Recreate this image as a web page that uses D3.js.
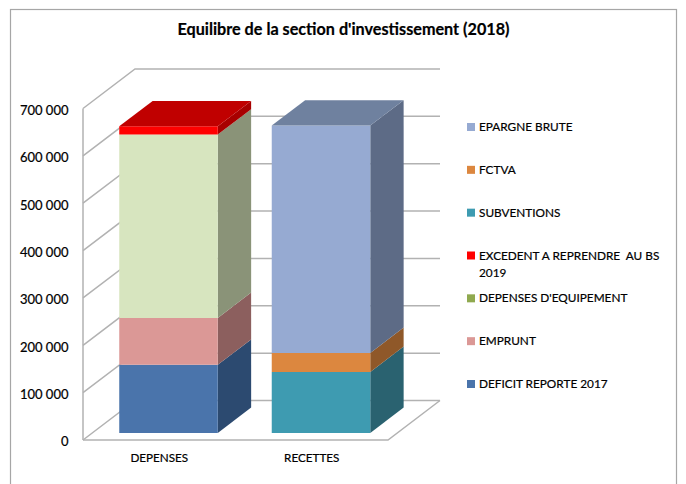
<!DOCTYPE html>
<html><head><meta charset="utf-8">
<script src="https://cdn.jsdelivr.net/npm/d3@7"></script>
<style>html,body{margin:0;padding:0;background:#fff}svg{display:block}text{font-family:Lato,"Open Sans",sans-serif;fill:#000;stroke:#000;stroke-width:.2px}</style>
</head><body><svg id="c" width="686" height="484"></svg>
<script>
const chartTitle = "Equilibre de la section d'investissement (2018)";
const categories = ["DEPENSES", "RECETTES"];
const tickValues = [0, 100000, 200000, 300000, 400000, 500000, 600000, 700000];
const deficit = [144000, 0];
const emprunt = [99000, 0];
const equipement = [387000, 0];
const excedent = [17500, 0];
const subventions = [0, 129000];
const fctva = [0, 40000];
const epargne = [0, 480000];
const seriesNames = ["DEFICIT REPORTE 2017", "EMPRUNT", "DEPENSES D'EQUIPEMENT", "EXCEDENT A REPRENDRE  AU BS 2019", "SUBVENTIONS", "FCTVA", "EPARGNE BRUTE"];
const seriesValues = [deficit, emprunt, equipement, excedent, subventions, fctva, epargne];
const faceColors = ["#4a74ab", "#db9896", "#d7e5bf", "#ff0000", "#3e9bb1", "#dc873f", "#96aad2"];
const sideColors = ["#2c4a70", "#8c5f5e", "#8a9378", "#a80000", "#2a6270", "#8f5829", "#5d6b86"];
const topColors = ["#3a5c88", "#b07a78", "#abb798", "#c00000", "#327c8d", "#b06c32", "#6f819f"];
const legendColors = ["#4a74ab", "#db9896", "#8fa94f", "#ff0000", "#3e9bb1", "#dc873f", "#96aad2"];
const legendOrder = [6, 5, 4, 3, 2, 1, 0];
const legendLines = [["EPARGNE BRUTE"], ["FCTVA"], ["SUBVENTIONS"], ["EXCEDENT A REPRENDRE  AU BS", "2019"], ["DEPENSES D'EQUIPEMENT"], ["EMPRUNT"], ["DEFICIT REPORTE 2017"]];

const svg = d3.select("#c");
const GREY = "#b2b2b2";
svg.append("rect").attr("x", 10.5).attr("y", 9.5).attr("width", 666).attr("height", 490)
  .attr("fill", "#fff").attr("stroke", "#a6a6a6").attr("stroke-width", 1.2);
svg.append("text").attr("x", 343.5).attr("y", 34.5).attr("text-anchor", "middle")
  .attr("font-size", 16.2).attr("font-weight", 700).text(chartTitle);

// Oblique projection: value + depth (0 front, 1 back of the floor) + floor x
const y = d3.scaleLinear().domain([0, 700000]).range([440, 108.5]);
const x = d3.scaleBand().domain(categories).range([83, 388]).paddingInner(0.354).paddingOuter(0.177);
const DX = 52, DY = 39.5;
const proj = (px, v, d) => [px + DX * d, y(v) - DY * d];
const line = d3.line();
const backRight = 388;

const grid = svg.append("g").attr("fill", "none").attr("stroke", GREY).attr("stroke-width", 1.5);
tickValues.forEach(v => {
  grid.append("path").attr("d", line([proj(83, v, 0), proj(83, v, 1), proj(backRight, v, 1)]));
});
grid.append("path").attr("d", line([proj(83, 0, 0), proj(backRight, 0, 0), proj(backRight, 0, 1)]));
grid.append("path").attr("d", line([proj(83, 0, 0), proj(83, 700000, 0)]));

// Y axis
const yAxis = d3.axisLeft(y).tickValues(tickValues).tickSize(0).tickPadding(0)
  .tickFormat(d => d === 0 ? "0" : d3.format(",")(d).replace(/,/g, "\u202f"));
const ag = svg.append("g").attr("transform", "translate(68.5,1.5)").call(yAxis);
ag.select(".domain").remove();
ag.selectAll("text").attr("font-size", 13).attr("font-family", "Lato").attr("fill", "#000").attr("dy", "0.34em");

// X labels
const xAxis = d3.axisBottom(x).tickSize(0).tickPadding(0);
const xg = svg.append("g").attr("transform", "translate(0,454)").call(xAxis);
xg.select(".domain").remove();
xg.selectAll("text").attr("font-size", 11.7).attr("font-family", "Lato").attr("fill", "#000").attr("dy", "0.71em");

// Bars
const table = categories.map((c, i) => {
  const row = { cat: c };
  seriesNames.forEach((s, j) => row[s] = seriesValues[j][i]);
  return row;
});
const stacked = d3.stack().keys(seriesNames)(table);
const D0 = 0.178, D1 = 0.82;
categories.forEach((c, ci) => {
  const g = svg.append("g");
  const l = x(c), r = l + x.bandwidth();
  const segs = stacked.map((s, j) => ({ a: s[ci][0], b: s[ci][1], j })).filter(s => s.b > s.a);
  segs.forEach(s => {
    g.append("path").attr("fill", sideColors[s.j])
      .attr("d", line([proj(r, s.a, D0), proj(r, s.a, D1), proj(r, s.b, D1), proj(r, s.b, D0)]) + "Z");
    g.append("path").attr("fill", faceColors[s.j])
      .attr("d", line([proj(l, s.a, D0), proj(r, s.a, D0), proj(r, s.b, D0), proj(l, s.b, D0)]) + "Z");
  });
  const t = segs[segs.length - 1];
  g.append("path").attr("fill", topColors[t.j])
    .attr("d", line([proj(l, t.b, D0), proj(r, t.b, D0), proj(r, t.b, D1), proj(l, t.b, D1)]) + "Z");
});

// Legend
const legendY = d3.scalePoint().domain(legendOrder).range([127, 384]);
const lg = svg.append("g");
legendOrder.forEach((j, i) => {
  const yy = legendY(j);
  lg.append("rect").attr("x", 467).attr("y", yy - 4).attr("width", 8).attr("height", 8).attr("fill", legendColors[j]);
  legendLines[i].forEach((t, k) => {
    lg.append("text").attr("x", 479).attr("y", yy + 4 + k * 17).attr("font-size", 11.8)
      .style("white-space", "pre").text(t);
  });
});
</script></body></html>
